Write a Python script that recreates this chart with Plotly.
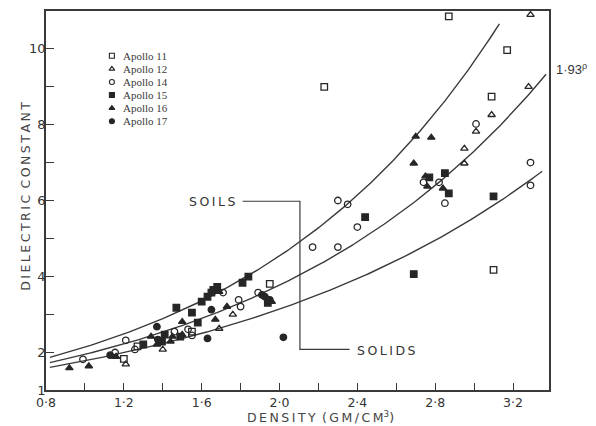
import numpy as np
import plotly.graph_objects as go

# ---------------- data ----------------
a11_rho = [1.20, 1.27, 1.55, 1.95, 2.23, 2.87, 3.17, 3.09, 3.10]
a11_eps = [1.82, 2.15, 2.54, 3.80, 9.00, 10.86, 9.97, 8.74, 4.17]

a12_rho = [1.21, 1.40, 1.69, 1.76, 2.95, 2.95, 3.01, 3.09, 3.28, 3.29]
a12_eps = [1.68, 2.07, 2.62, 2.99, 7.37, 6.98, 7.82, 8.26, 9.00, 10.90]

a14_rho = [0.99, 1.155, 1.21, 1.257, 1.46, 1.53, 1.55, 1.71, 1.79, 1.80, 1.89,
           2.17, 2.30, 2.30, 2.35, 2.40, 2.74, 2.82, 2.85, 3.01, 3.29, 3.29]
a14_eps = [1.81, 1.99, 2.31, 2.07, 2.54, 2.60, 2.44, 3.57, 3.38, 3.20, 3.57,
           4.77, 4.77, 6.00, 5.90, 5.30, 6.48, 6.48, 5.93, 8.02, 7.00, 6.40]

a15_rho = [1.30, 1.396, 1.41, 1.47, 1.49, 1.55, 1.58, 1.60, 1.63, 1.65, 1.66,
           1.68, 1.81, 1.84, 1.94, 2.44, 2.69, 2.77, 2.85, 2.87, 3.10]
a15_eps = [2.20, 2.28, 2.46, 3.17, 2.41, 3.04, 2.78, 3.33, 3.46, 3.57, 3.64,
           3.72, 3.83, 3.99, 3.30, 5.56, 4.06, 6.61, 6.72, 6.19, 6.11]

a16_rho = [0.92, 1.02, 1.16, 1.34, 1.37, 1.44, 1.45, 1.50, 1.50, 1.67, 1.69,
           1.73, 1.96, 2.70, 2.78, 2.69, 2.75, 2.76, 2.84]
a16_eps = [1.58, 1.63, 1.88, 2.41, 2.20, 2.28, 2.41, 2.80, 2.46, 2.86, 3.59,
           3.20, 3.33, 7.69, 7.66, 6.98, 6.64, 6.37, 6.32]

a17_rho = [1.13, 1.37, 1.375, 1.63, 1.65, 1.91, 1.925, 1.95, 2.02]
a17_eps = [1.92, 2.67, 2.33, 2.36, 3.12, 3.51, 3.46, 3.38, 2.39]

series_names = ["Apollo 11", "Apollo 12", "Apollo 14", "Apollo 15", "Apollo 16", "Apollo 17"]

# fitted curves eps = base ** rho
curve_bases = [2.13, 1.94, 1.77]
curve_start = [0.82, 0.82, 0.82]
curve_end = [3.13, 3.37, 3.35]

x_tick_vals = [0.8, 1.0, 1.2, 1.4, 1.6, 1.8, 2.0, 2.2, 2.4, 2.6, 2.8, 3.0, 3.2]
x_tick_text = ["0·8", " ", "1·2", " ", "1·6", " ", "2·0", " ", "2·4", " ", "2·8", " ", "3·2"]
y_tick_vals = [1, 2, 3, 4, 5, 6, 7, 8, 9, 10]
y_tick_text = ["1", "2", " ", "4", " ", "6", " ", "8", " ", "10"]

# ---------------- styling ----------------
INK = "#262626"
LINE = "#3a3a3a"
SANS = "DejaVu Sans, Liberation Sans, sans-serif"
NARROW = "Liberation Sans, Arial, sans-serif"
SERIF = "Liberation Serif, Times New Roman, serif"
TS = "\u2009"  # thin space used to mimic the wide lettering
WS = "\u2002"  # en space between words


def spaced(word):
    return TS.join(word)


symbols = ["square-open", "triangle-up-open", "circle-open", "square", "triangle-up", "circle"]
xs = [a11_rho, a12_rho, a14_rho, a15_rho, a16_rho, a17_rho]
ys = [a11_eps, a12_eps, a14_eps, a15_eps, a16_eps, a17_eps]

fig = go.Figure()

for b, s, e in zip(curve_bases, curve_start, curve_end):
    r = np.linspace(s, e, 200)
    fig.add_trace(go.Scatter(x=r, y=b ** r, mode="lines",
                             line=dict(color=LINE, width=1.4),
                             showlegend=False, hoverinfo="skip"))

for name, sym, x, y in zip(series_names, symbols, xs, ys):
    fig.add_trace(go.Scatter(x=x, y=y, mode="markers", name=name,
                             marker=dict(symbol=sym, size=6.5, color=INK,
                                         line=dict(color=INK, width=1.3)),
                             showlegend=False))

# manual compact legend on an overlay axis (0..1 in both directions)
leg_x = 0.131
leg_top = 0.882
leg_step = 0.0346
for i, (name, sym) in enumerate(zip(series_names, symbols)):
    yy = leg_top - i * leg_step
    fig.add_trace(go.Scatter(x=[leg_x], y=[yy], mode="markers", xaxis="x2", yaxis="y2",
                             marker=dict(symbol=sym, size=5, color=INK,
                                         line=dict(color=INK, width=1.1)),
                             showlegend=False, hoverinfo="skip"))
    fig.add_annotation(x=leg_x + 0.018, y=yy, xref="x2", yref="y2", text=name,
                       showarrow=False, xanchor="left", yanchor="middle",
                       font=dict(family=SERIF, size=11, color="#3a3a3a"))

# SOILS / SOLIDS leader
soil_pts_x = [1.81, 2.105, 2.105, 2.36]
soil_pts_y = [5.98, 5.98, 2.07, 2.07]
fig.add_trace(go.Scatter(x=soil_pts_x, y=soil_pts_y, mode="lines",
                         line=dict(color=LINE, width=1.2), showlegend=False, hoverinfo="skip"))
fig.add_annotation(x=1.78, y=5.98, text=spaced("SOILS"), showarrow=False, xanchor="right",
                   yanchor="middle", font=dict(family=SANS, size=12.5, color="#333"))
fig.add_annotation(x=2.39, y=2.03, text=spaced("SOLIDS"), showarrow=False, xanchor="left",
                   yanchor="middle", font=dict(family=SANS, size=12.5, color="#333"))

fig.add_annotation(x=1.010, y=0.848, xref="paper", yref="paper", text="1·93<sup>ρ</sup>",
                   showarrow=False, xanchor="left", yanchor="middle",
                   font=dict(family=NARROW, size=13, color="#333"))
fig.add_annotation(x=-0.040, y=0.512, xref="paper", yref="paper",
                   text=WS.join(spaced(w) for w in ["DIELECTRIC", "CONSTANT"]),
                   textangle=-90, showarrow=False, xanchor="center", yanchor="middle",
                   font=dict(family=SANS, size=12.5, color="#444"))
fig.add_annotation(x=0.545, y=-0.071, xref="paper", yref="paper",
                   text=spaced("DENSITY") + WS + spaced("(GM/CM") + "<sup>3</sup>)",
                   showarrow=False, xanchor="center", yanchor="middle",
                   font=dict(family=SANS, size=12.5, color="#444"))

axis_common = dict(showgrid=False, zeroline=False, showline=True, mirror=True,
                   linecolor=LINE, linewidth=1.5, ticks="inside", tickcolor=LINE,
                   tickwidth=1.3)

# the page body adds an 8px offset, so the figure is 8px smaller than the window
fig.update_layout(
    width=588, height=418,
    margin=dict(l=38, r=47, t=1, b=36),
    paper_bgcolor="white", plot_bgcolor="white",
    xaxis=dict(range=[0.8, 3.385], tickmode="array", tickvals=x_tick_vals,
               ticktext=x_tick_text, ticklen=7,
               tickfont=dict(family=SANS, size=12.5, color="#333"), **axis_common),
    yaxis=dict(range=[1.0, 11.0], tickmode="array", tickvals=y_tick_vals,
               ticktext=y_tick_text, ticklen=8, ticklabelstandoff=-4,
               tickfont=dict(family=SANS, size=13, color="#333"), **axis_common),
    xaxis2=dict(range=[0, 1], overlaying="x", visible=False, anchor="y2"),
    yaxis2=dict(range=[0, 1], overlaying="y", visible=False, anchor="x2"),
)

fig.write_html("out.html")
